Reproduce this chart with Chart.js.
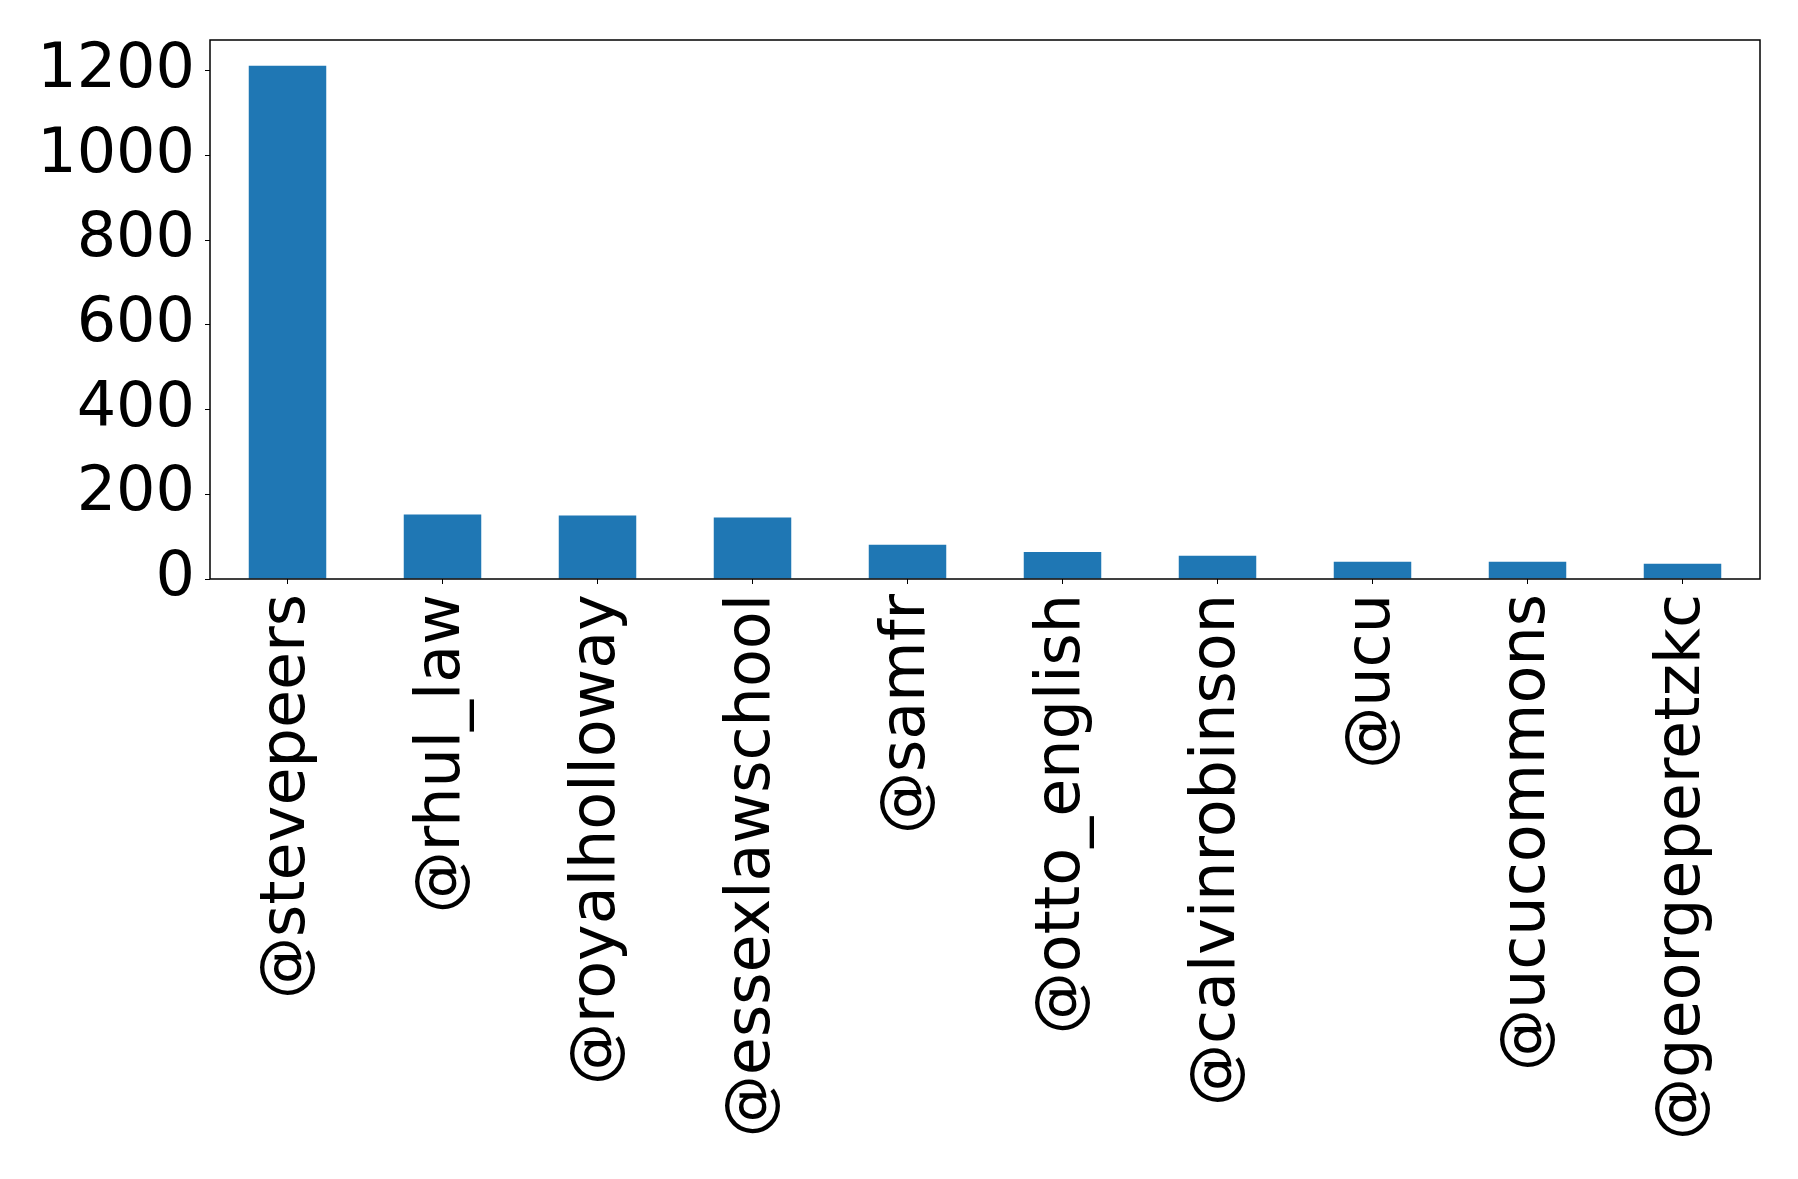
<!DOCTYPE html>
<html lang="en">
<head>
<meta charset="UTF-8">
<title>Mentions</title>
<script src="https://cdn.jsdelivr.net/npm/chart.js"></script>
<style>
  html, body { margin: 0; padding: 0; background: #fff; }
  #wrap { width: 1798px; height: 1179px; }
</style>
</head>
<body>
<div id="wrap"><canvas id="chart" width="1798" height="1179"></canvas></div>
<script>
  // data
  const handles = ['@stevepeers', '@rhul_law', '@royalholloway', '@essexlawschool', '@samfr',
    '@otto_english', '@calvinrobinson', '@ucu', '@ucucommons', '@georgeperetzkc'];
  const counts = [1212, 152, 150, 145, 81, 64, 55, 41, 41, 36];
  const yTicks = [0, 200, 400, 600, 800, 1000, 1200];

  const font = { family: "'DejaVu Sans', sans-serif", size: 62 };

  // matplotlib style box round the axes
  const frame = {
    id: 'frame',
    afterDraw(chart) {
      const { ctx, chartArea: a } = chart;
      ctx.save();
      ctx.strokeStyle = '#000';
      ctx.lineWidth = 1.5;
      ctx.strokeRect(a.left, a.top, a.right - a.left, a.bottom - a.top);
      ctx.restore();
    }
  };

  function noPad(scale) {
    scale.paddingTop = 0;
    scale.paddingBottom = 0;
    scale.paddingLeft = 0;
    scale.paddingRight = 0;
  }

  new Chart(document.getElementById('chart'), {
    type: 'bar',
    data: {
      labels: handles,
      datasets: [{
        data: counts,
        backgroundColor: '#1f77b4',
        barPercentage: 0.5,
        categoryPercentage: 1.0
      }]
    },
    options: {
      responsive: false,
      animation: false,
      devicePixelRatio: 1,
      layout: { padding: { top: 40, right: 38, left: 0, bottom: 0 } },
      plugins: { legend: { display: false }, tooltip: { enabled: false } },
      scales: {
        x: {
          grid: { display: true, offset: false, drawOnChartArea: false, drawTicks: true, tickLength: 5, tickColor: '#000', color: '#000' },
          border: { display: false },
          ticks: { color: '#000', font: font, maxRotation: 90, minRotation: 90, padding: 10, autoSkip: false },
          afterFit(scale) { scale.height = 1179 - 579; noPad(scale); }
        },
        y: {
          min: 0,
          max: 1212 * 1.05,
          grid: { display: true, drawOnChartArea: false, drawTicks: true, tickLength: 5, tickColor: '#000', color: '#000' },
          border: { display: false },
          ticks: { color: '#000', font: font, padding: 10, callback: v => String(v) },
          afterBuildTicks(scale) {
            scale.ticks = yTicks.map(v => ({ value: v }));
          },
          afterFit(scale) { scale.width = 210; noPad(scale); }
        }
      }
    },
    plugins: [frame]
  });
</script>
</body>
</html>
